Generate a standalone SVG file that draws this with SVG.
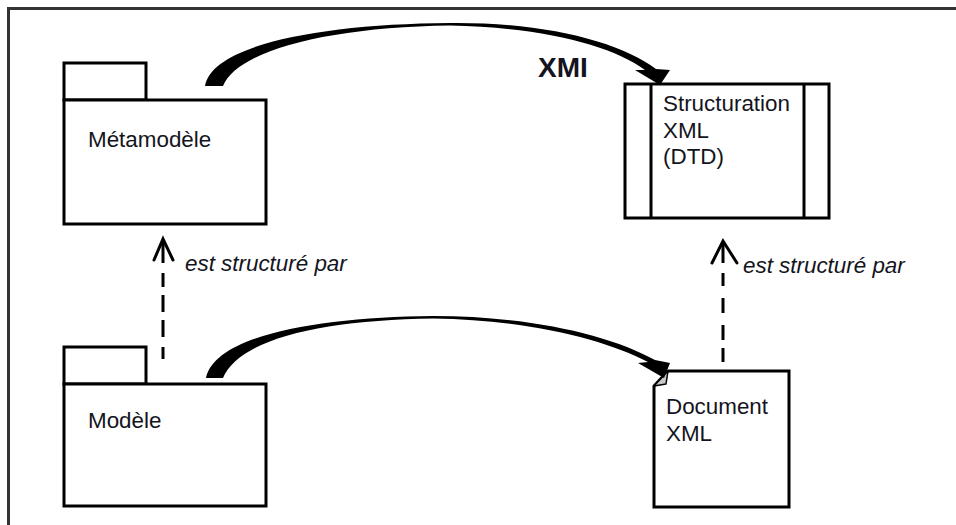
<svg xmlns="http://www.w3.org/2000/svg" width="956" height="525" viewBox="0 0 956 525">
  <style>
    .shape { fill: #fff; stroke: #000; stroke-width: 3; }
    .lbl { font-family: "Liberation Sans", Arial, sans-serif; font-size: 22.4px; fill: #141420; }
    .ital { font-style: italic; }
    .dash { fill: none; stroke: #000; stroke-width: 3; }
    .head { fill: none; stroke: #000; stroke-width: 3; stroke-linecap: round; stroke-linejoin: miter; }
    .brush { fill: #000; stroke: none; }
  </style>
  <rect x="0" y="0" width="956" height="525" fill="#fff"/>
  <path d="M8.5,525 V8.5 H956" fill="none" stroke="#333" stroke-width="3"/>

  <g id="metamodele">
    <rect class="shape" x="64" y="63" width="82" height="37"/>
    <rect class="shape" x="64" y="100" width="202" height="124"/>
    <text class="lbl" x="88" y="147">Métamodèle</text>
  </g>

  <g id="modele">
    <rect class="shape" x="64" y="347" width="82" height="37"/>
    <rect class="shape" x="64" y="384" width="202" height="122"/>
    <text class="lbl" x="88" y="428">Modèle</text>
  </g>

  <g id="structuration">
    <rect class="shape" x="625" y="84" width="204" height="134"/>
    <line class="shape" x1="651" y1="84" x2="651" y2="218"/>
    <line class="shape" x1="804" y1="84" x2="804" y2="218"/>
    <text class="lbl" x="663" y="111">Structuration</text>
    <text class="lbl" x="663" y="137.5">XML</text>
    <text class="lbl" x="663" y="164">(DTD)</text>
  </g>

  <g id="document">
    <path class="shape" d="M668,371 H789 V507 H654 V386 Z"/>
    <path d="M654,386 L668,371 L666,384 Z" fill="#c8c8c8" stroke="#000" stroke-width="1.5" stroke-linejoin="round"/>
    <text class="lbl" x="666" y="414">Document</text>
    <text class="lbl" x="666" y="441">XML</text>
  </g>

  <g id="connectors">
    <!-- XMI brush arrow -->
    <path class="brush" d="M205,86 C212,45 320,24 450,23 C545,22 620,42 656,69 L670,70 L660,85 L635,70 L645,70 C612,45 540,27 450,25.5 C330,27 238,50 223,86 Z"/>
    <text x="538" y="77" font-family="Liberation Sans, Arial, sans-serif" font-weight="bold" font-size="28" fill="#141420">XMI</text>

    <!-- Modele to Document brush arrow -->
    <path class="brush" d="M206,378 C215,335 320,317 433,316 C530,316 610,335 655,360 L670,363 L664,378 L638,363 L648,362 C605,340 530,320 433,318.5 C325,320 240,338 223,378 Z"/>

    <!-- est structuré par (left) -->
    <path class="dash" d="M163,240 V359" stroke-dasharray="23 10 14 8 17 8 17 10 12"/>
    <polyline class="head" points="154,260 163,239 173,260"/>
    <text class="lbl ital" x="185" y="271">est structuré par</text>

    <!-- est structuré par (right) -->
    <path class="dash" d="M723,242 V362" stroke-dasharray="21 10 13 12 15 12 15 8 14"/>
    <polyline class="head" points="712,263 723,241 737,263"/>
    <text class="lbl ital" x="743" y="273">est structuré par</text>
  </g>
</svg>
